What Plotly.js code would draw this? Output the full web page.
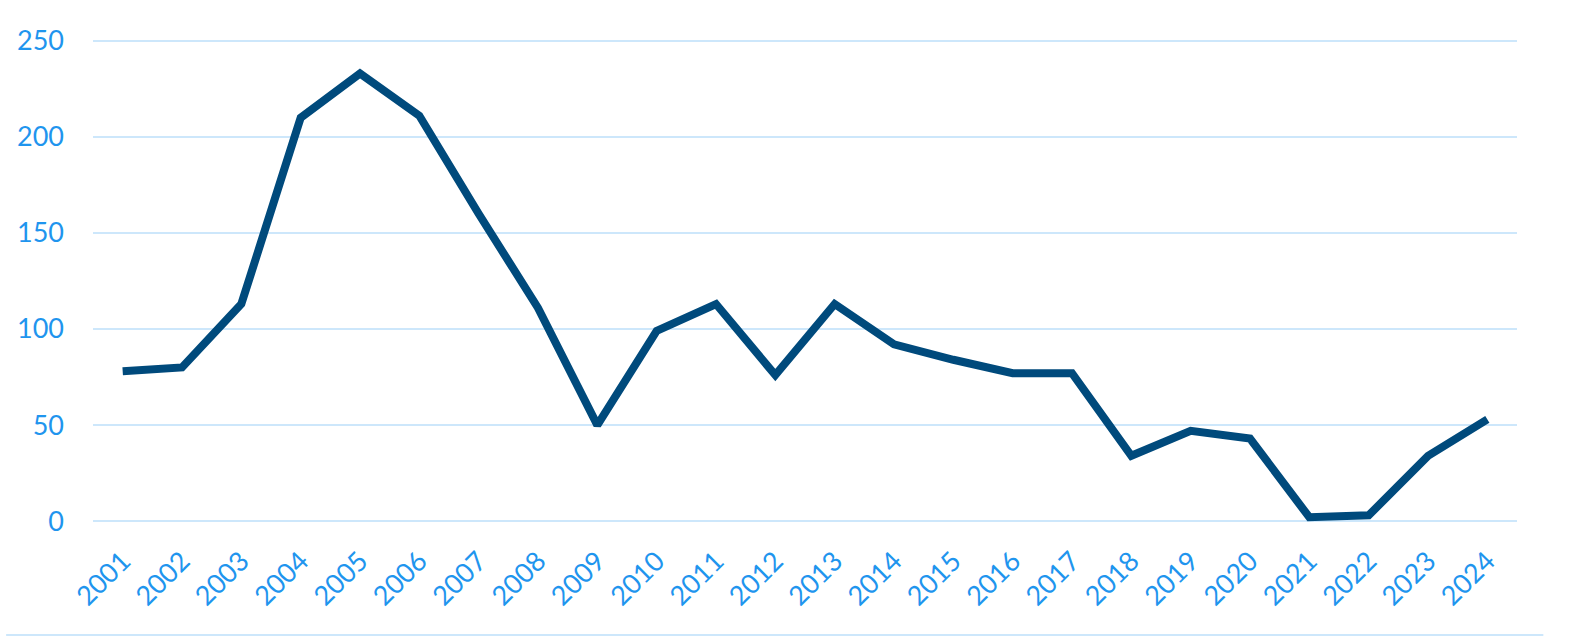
<!DOCTYPE html>
<html>
<head>
<meta charset="utf-8">
<script src="https://cdn.plot.ly/plotly-3.0.1.min.js"></script>
<style>
  html, body { margin: 0; padding: 0; background: #fff; }
  #plot { width: 1570px; height: 642px; }
</style>
</head>
<body>
<div id="plot"></div>
<script>
// Years on the x axis (category labels)
var years = ['2001', '2002', '2003', '2004', '2005', '2006', '2007', '2008',
             '2009', '2010', '2011', '2012', '2013', '2014', '2015', '2016',
             '2017', '2018', '2019', '2020', '2021', '2022', '2023', '2024'];

// Values
var counts = [78, 80, 113, 210, 233, 211, 160, 111,
              50, 99, 113, 76, 113, 92, 84, 77,
              77, 34, 47, 43, 2, 3, 34, 53];

var yTicks = [0, 50, 100, 150, 200, 250];

var lineColor = '#004a7c';
var tickColor = '#1f95ee';
var gridColor = '#cde7fb';

var data = [{
  x: years,
  y: counts,
  type: 'scatter',
  mode: 'lines',
  line: { color: lineColor, width: 8 },
  cliponaxis: false,
  hoverinfo: 'x+y'
}];

var layout = {
  width: 1570,
  height: 642,
  // range padded a little so plotly doesn't drop the 0 and 250 grid lines at the edges
  margin: { l: 93, r: 53, t: 38, b: 118, pad: 0 },
  paper_bgcolor: '#ffffff',
  plot_bgcolor: '#ffffff',
  showlegend: false,
  font: { family: 'Lato, "Open Sans", sans-serif', color: tickColor, size: 26 },
  xaxis: {
    type: 'category',
    range: [-0.5, 23.5],
    tickangle: -45,
    showgrid: false,
    zeroline: false,
    showline: false,
    ticks: '',
    ticklabelstandoff: 15,
    tickfont: { size: 27, color: tickColor },
    fixedrange: true
  },
  yaxis: {
    range: [-1.5, 251.5],
    tickvals: yTicks,
    showgrid: true,
    gridcolor: gridColor,
    gridwidth: 2,
    zeroline: false,
    showline: false,
    ticks: '',
    ticklabelstandoff: 28,
    tickfont: { size: 27, color: tickColor },
    fixedrange: true
  },
  shapes: [{
    type: 'line',
    xref: 'paper', yref: 'paper',
    x0: -0.061, x1: 1.0185,
    y0: -0.2285, y1: -0.2285,
    line: { color: gridColor, width: 2 }
  }]
};

Plotly.newPlot('plot', data, layout, { displayModeBar: false, staticPlot: true });
</script>
</body>
</html>
